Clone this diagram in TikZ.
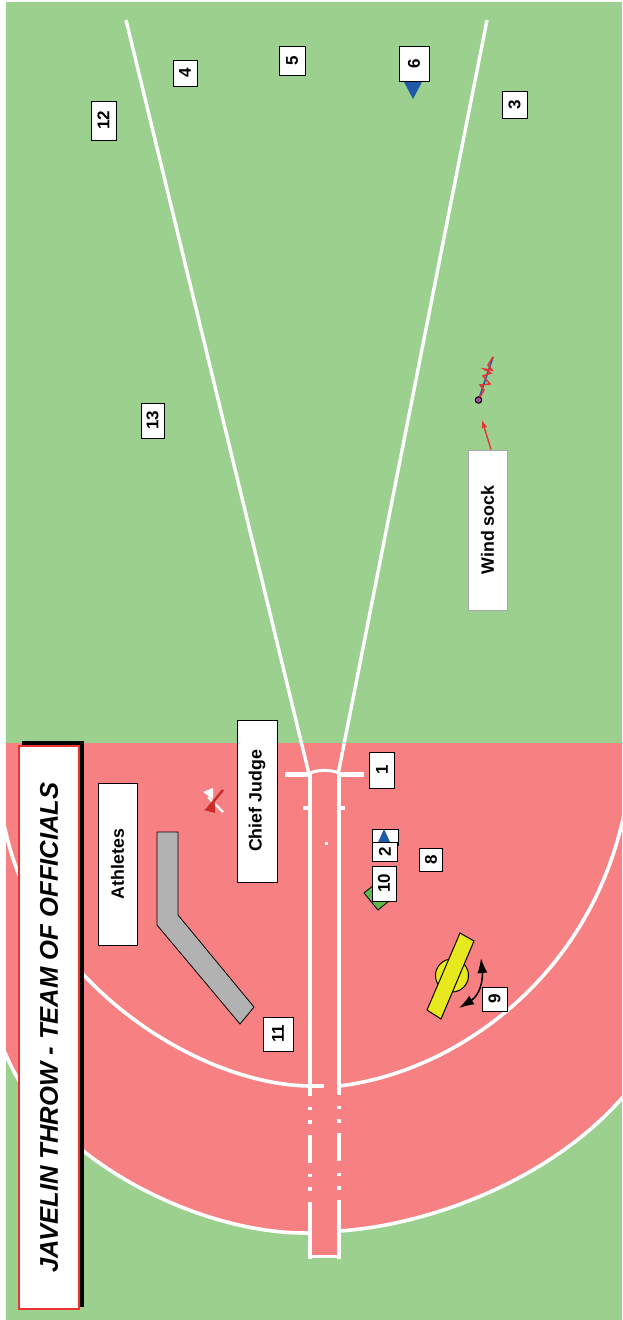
\documentclass[tikz,border=0pt]{standalone}
\usepackage{fontspec}
\setmainfont{Liberation Sans}
\definecolor{grassc}{RGB}{155,208,143}
\definecolor{trackc}{RGB}{246,128,130}
\definecolor{flagblue}{RGB}{30,90,170}
\definecolor{diamondg}{RGB}{95,185,75}
\definecolor{yellowc}{RGB}{232,232,30}
\definecolor{redc}{RGB}{238,50,50}
\definecolor{grayc}{RGB}{178,178,178}
\definecolor{purplec}{RGB}{160,80,160}
\tikzset{
  numbox/.style={draw=black,line width=1pt,fill=white,rotate=90,inner sep=0pt,font=\bfseries\fontsize{17}{17}\selectfont},
  namebox/.style={numbox,font=\bfseries\fontsize{17.8}{18}\selectfont},
  wline/.style={draw=white,line width=4pt},
  arcline/.style={draw=white,line width=3.6pt},
  sector/.style={draw=white,line width=3.4pt},
}
\usetikzlibrary{arrows.meta,calc}
\begin{document}
\begin{tikzpicture}[x=1pt,y=-1pt]
\useasboundingbox (0,0) rectangle (622,1320);
\fill[white] (0,0) rectangle (622,1320);
\fill[grassc] (6,2) rectangle (622,1320);
% track
\begin{scope}
\clip (6,743) rectangle (622,1320);
\fill[trackc] (2,743) -- (626,743) -- (626,1095) -- (622,1098) .. controls (550,1180) and (430,1225) .. (339,1231) -- (310,1233) .. controls (200,1235) and (50,1160) .. (6,1055) -- (2,1047) -- cycle;
\draw[arcline] (626,1095) -- (622,1098) .. controls (550,1180) and (430,1225) .. (339,1231);
\draw[arcline] (310,1233) .. controls (200,1235) and (50,1160) .. (6,1055) -- (2,1047);
\draw[arcline] (310,1086) .. controls (200,1085) and (40,985) .. (6,833) -- (4,825);
\draw[arcline] (339,1086) .. controls (455,1072) and (585,980) .. (622,823) -- (624,815);
\end{scope}
% runway
\fill[trackc] (310,772) rectangle (339,1257);
\coordinate (fl) at (285,774.5); \coordinate (fr) at (364,774.5);
\draw[wline,line width=4.6pt] (fl) -- (310,774.5);
\draw[wline,line width=4.6pt] (339,774.5) -- (fr);
\draw[wline,line width=3pt] (310,773) .. controls (318,769.5) and (331,769.5) .. (339,773);
\draw[wline] (310,773) -- (310,1096) (310,1106.5) -- (310,1110) (310,1120) -- (310,1124) (310,1135) -- (310,1163) (310,1173.5) -- (310,1177) (310,1187) -- (310,1191) (310,1202) -- (310,1258.5);
\draw[wline] (339,773) -- (339,1095) (339,1105.5) -- (339,1109) (339,1119) -- (339,1123) (339,1133) -- (339,1161) (339,1172.5) -- (339,1176) (339,1186) -- (339,1190) (339,1200) -- (339,1258.5);
\draw[wline,line width=3pt] (310,1256.5) -- (339,1256.5);
\draw[wline] (310,1086) -- (324,1086);
\draw[wline] (303,808) -- (310,808) (339,808) -- (345,808);
\fill[white] (324.5,842) rectangle (327.5,845);
% sector
\coordinate (sl) at (126,20); \coordinate (sr) at (487,20);
\draw[sector] (sl) -- (308.5,772);
\draw[sector] (sr) -- (338.5,772);
% title
\fill[black] (22,741) rectangle (84,1307);
\node[draw=redc,line width=2.4pt,fill=white,minimum width=563pt,minimum height=60pt,rotate=90,inner sep=0pt,
  font=\bfseries\itshape\fontsize{25.6}{26}\selectfont] (title) at (49,1027.5) {JAVELIN THROW - TEAM OF OFFICIALS};
% athletes lane
\filldraw[fill=grayc,draw=black,line width=0.8pt] (157,832) -- (178,832) -- (178,915) -- (254,1007) -- (240,1024) -- (157,925) -- cycle;
% flags
\draw[white,line width=2.4pt] (223,812) -- (208,797);
\fill[white] (203,792) -- (213,788) -- (213,799) -- cycle;
\draw[redc!85!black,line width=2.4pt] (223,790) -- (208,808);
\fill[redc!85!black] (204,810) -- (215,802) -- (215,813) -- cycle;
% name boxes
\node[namebox,minimum width=162pt,minimum height=39pt] (athletes) at (117.5,864) {Athletes};
\node[namebox,minimum width=162pt,minimum height=40pt] (chief) at (257,801) {Chief Judge};
\node[namebox,draw=gray!70,minimum width=160pt,minimum height=39pt] (wind) at (487.5,530) {Wind sock};
% wind sock
\node[circle,draw=black,fill=purplec,line width=1pt,minimum size=6.5pt,inner sep=0pt] (sock) at (478.5,400) {};
\coordinate (tip) at (493,357);
\draw[flagblue,line width=1.6pt] (sock) -- (tip);
\draw[redc,line width=1.5pt,line join=miter] (480,397) -- (484,390) -- (480,385) -- (490,384) -- (483,376) -- (491,373) -- (484,369) -- (492,370) -- (488,365) -- (tip);
\coordinate (windtip) at (482,420);
\draw[redc,line width=1.4pt,-{Latex[length=8pt,width=6pt]}] ([xshift=3.5pt]wind.east) -- (windtip);
% officials markers
\fill[white] (372,829) rectangle (398,845);
\draw[black,line width=1pt] (372,829) rectangle (398,845);
\fill[flagblue] (384,829) -- (397,857) -- (371.5,857) -- cycle;
\filldraw[fill=diamondg,draw=black,line width=0.8pt] (364,893) -- (378,910) -- (395,896) -- (381,879) -- cycle;
\fill[flagblue] (404,82) -- (422,82) -- (413,99) -- cycle;
% thrower
\filldraw[fill=yellowc,draw=black,line width=1pt] (452,975.5) circle[radius=16.5pt];
\filldraw[fill=yellowc,draw=black,line width=1pt] (460,933) -- (474,941) -- (441,1019) -- (427,1010) -- cycle;
\coordinate (ar1) at (481,958); \coordinate (ar2) at (459,1008);
\draw[black,line width=1.5pt,{Latex[length=15pt,width=10pt]}-{Latex[length=15pt,width=10pt]}] (ar1) .. controls (483,980) and (480,995) .. (ar2);
% numbers
\node[numbox,minimum width=36pt,minimum height=25pt] (n1) at (382,770) {1};
\node[numbox,minimum width=19pt,minimum height=25pt] (n2) at (385,851.5) {2};
\node[numbox,minimum width=27pt,minimum height=25pt] (n3) at (514.5,104.5) {3};
\node[numbox,minimum width=26pt,minimum height=24pt] (n4) at (185,73) {4};
\node[numbox,minimum width=29pt,minimum height=26pt] (n5) at (292,60.5) {5};
\node[numbox,minimum width=35pt,minimum height=30pt] (n6) at (414,63.5) {6};
\node[numbox,minimum width=23pt,minimum height=23pt] (n8) at (431,859.5) {8};
\node[numbox,minimum width=24pt,minimum height=25pt] (n9) at (494.5,999) {9};
\node[numbox,minimum width=35pt,minimum height=24pt] (n10) at (384,883.5) {10};
\node[numbox,minimum width=34pt,minimum height=30pt] (n11) at (278,1034) {11};
\node[numbox,minimum width=39pt,minimum height=25pt] (n12) at (103.5,120.5) {12};
\node[numbox,minimum width=35pt,minimum height=23pt] (n13) at (152.5,420.5) {13};
\end{tikzpicture}
\end{document}
